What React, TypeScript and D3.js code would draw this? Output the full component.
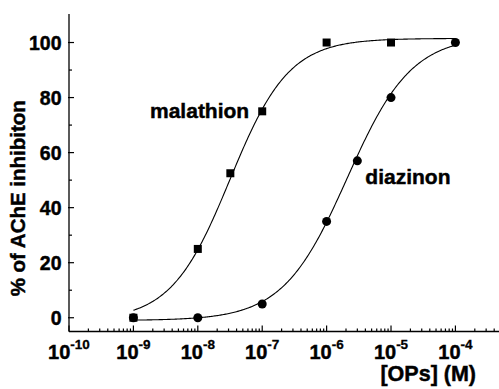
import React from "react";
import * as d3 from "d3";

// ---- data ----
const malathionConc = [1e-9, 1e-8, 3.2e-8, 1e-7, 1e-6, 1e-5];
const malathionInhib = [0, 25, 52.5, 75, 100, 100];
const diazinonConc = [1e-9, 1e-8, 1e-7, 1e-6, 3e-6, 1e-5, 1e-4];
const diazinonInhib = [0, 0, 5, 35, 57, 80, 100];

// logistic (dose-response) fit parameters: [bottom, top, logEC50, hill]
const malathionFit = [-1, 101.5, -7.5, 0.95];
const diazinonFit = [-1, 102.5, -5.68, 0.87];
const fitRange = [1e-9, 1e-4];

const xTickExponents = [-10, -9, -8, -7, -6, -5, -4];
const yTickValues = [0, 20, 40, 60, 80, 100];
const yMinorValues = [10, 30, 50, 70, 90];

const W = 499;
const H = 389;
const FONT = "'Liberation Sans', Arial, Helvetica, sans-serif";

function logistic(p: number[], c: number) {
  const [bottom, top, logEC50, hill] = p;
  return bottom + (top - bottom) / (1 + Math.pow(10, hill * (logEC50 - Math.log10(c))));
}

export default function App() {
  const x = d3.scaleLog().domain([1e-10, Math.pow(10, -3.3)]).range([69, 500.5]);
  const y = d3.scaleLinear().domain([-5, 110]).range([331.5, 15]);
  const x0 = 69;
  const yAxisY = 331.5;

  const lo = Math.log10(fitRange[0]);
  const hi = Math.log10(fitRange[1]);
  const samples = d3.range(0, 301).map((i) => Math.pow(10, lo + (i / 300) * (hi - lo)));
  const malPath = d3.line<number>().x((c) => x(c)).y((c) => y(logistic(malathionFit, c)))(samples) || "";
  const diaPath = d3.line<number>().x((c) => x(c)).y((c) => y(logistic(diazinonFit, c)))(samples) || "";

  const minorX: number[] = [];
  for (let e = -10; e <= -4; e++) {
    for (let m = 2; m <= 9; m++) {
      const v = m * Math.pow(10, e);
      if (v <= x.domain()[1]) minorX.push(v);
    }
  }

  const textStyle = { stroke: "#000", strokeWidth: 0.45 };

  return (
    <div style={{ position: "fixed", left: 0, top: 0 }}>
      <svg width={W} height={H} style={{ display: "block", background: "#fff" }} fontFamily={FONT}>
        <rect x={0} y={0} width={W} height={H} fill="#fff" />
        <line x1={x0} x2={x0} y1={14} y2={yAxisY} stroke="#000" strokeWidth={1.3} />
        <line x1={x0} x2={W} y1={yAxisY} y2={yAxisY} stroke="#000" strokeWidth={1.3} />

        {yTickValues.map((v) => (
          <g key={"yt" + v}>
            <line x1={x0 - 1} x2={x0 + 5} y1={y(v)} y2={y(v)} stroke="#000" strokeWidth={1.2} />
            <text x={61.5} y={y(v) + 7} textAnchor="end" fontSize={19.5} fontWeight="bold" {...textStyle}>
              {v}
            </text>
          </g>
        ))}
        {yMinorValues.map((v) => (
          <line key={"ym" + v} x1={x0} x2={x0 + 3} y1={y(v)} y2={y(v)} stroke="#000" strokeWidth={1.2} />
        ))}

        {xTickExponents.map((e) => {
          const v = Math.pow(10, e);
          return (
            <g key={"xt" + e}>
              <line x1={x(v)} x2={x(v)} y1={yAxisY} y2={yAxisY - 6} stroke="#000" strokeWidth={1.2} />
              <text x={x(v)} y={359} textAnchor="middle" fontSize={20} fontWeight="bold" {...textStyle}>
                10
                <tspan dy={-10} fontSize={13.5} strokeWidth={0.3}>
                  {String(e)}
                </tspan>
              </text>
            </g>
          );
        })}
        {minorX.map((v, i) => (
          <line key={"xm" + i} x1={x(v)} x2={x(v)} y1={yAxisY} y2={yAxisY - 3} stroke="#000" strokeWidth={1.2} />
        ))}

        <path d={malPath} fill="none" stroke="#000" strokeWidth={1.1} />
        <path d={diaPath} fill="none" stroke="#000" strokeWidth={1.1} />

        {malathionConc.map((c, i) => (
          <rect key={"m" + i} x={x(c) - 4} y={y(malathionInhib[i]) - 4} width={8} height={8} fill="#000" />
        ))}
        {diazinonConc.map((c, i) => (
          <circle key={"d" + i} cx={x(c)} cy={y(diazinonInhib[i])} r={4.5} fill="#000" />
        ))}

        <text x={x(1e-7) - 13} y={y(75) + 7} textAnchor="end" fontSize={21} fontWeight="bold" {...textStyle}>
          malathion
        </text>
        <text x={x(3e-6) + 8} y={y(57) + 23} textAnchor="start" fontSize={21} fontWeight="bold" {...textStyle}>
          diazinon
        </text>

        <text x={476} y={381} textAnchor="end" fontSize={21.5} fontWeight="bold" {...textStyle}>
          [OPs] (M)
        </text>
        <text
          transform={`translate(25, ${(y(110) + yAxisY) / 2 + 25}) rotate(-90)`}
          textAnchor="middle"
          fontSize={20.5}
          fontWeight="bold"
          {...textStyle}
        >
          % of AChE inhibiton
        </text>
      </svg>
    </div>
  );
}
